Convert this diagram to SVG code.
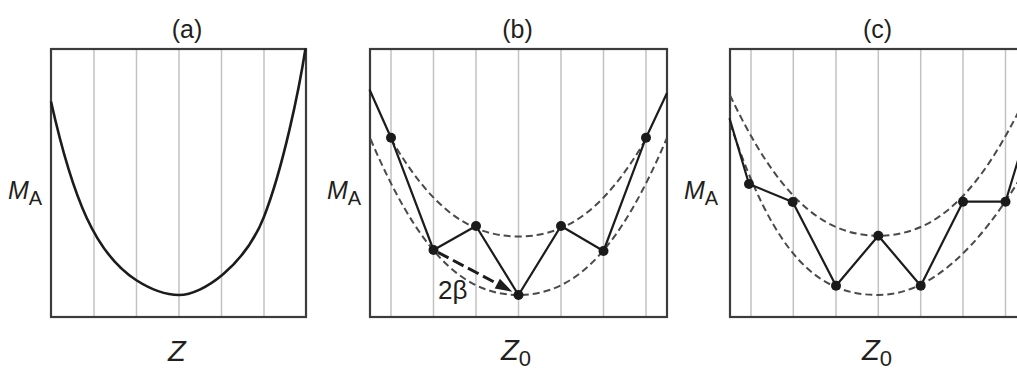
<svg xmlns="http://www.w3.org/2000/svg" width="1017" height="371" viewBox="0 0 1017 371">
<style>
.box{fill:none;stroke:#3c3c3c;stroke-width:2.2}
.grid line{stroke:#c2c2c2;stroke-width:1.5}
.curve{fill:none;stroke:#1c1c1c;stroke-width:2.6}
.dash{fill:none;stroke:#4a4a4a;stroke-width:2;stroke-dasharray:7 4}
.poly{fill:none;stroke:#1c1c1c;stroke-width:2.2;stroke-linejoin:round}
.dot{fill:#1a1a1a}
text{font-family:"Liberation Sans",Arial,sans-serif;fill:#231f20}
.t{font-size:25px;text-anchor:middle}
.m{font-size:25px;font-style:italic}
.s{font-style:normal;font-size:20px}
.z{font-size:29px;font-style:italic}
.zs{font-style:normal;font-size:22px}
</style>
<rect width="1017" height="371" fill="#fff"/>

<g id="panel-a">
  <g class="grid">
    <line x1="94" y1="49" x2="94" y2="317"/>
    <line x1="136.5" y1="49" x2="136.5" y2="317"/>
    <line x1="179" y1="49" x2="179" y2="317"/>
    <line x1="221.5" y1="49" x2="221.5" y2="317"/>
    <line x1="264" y1="49" x2="264" y2="317"/>
  </g>
  <rect class="box" x="51" y="49" width="255" height="268"/>
  <path class="curve" d="M51,101.5 C73,200 96,254 136,280 C150,289 165,295 179,295 C203,295 245,265 264,216.7 C283,168 299,90 305.5,48.5"/>
  <text class="t" x="187" y="38">(a)</text>
  <text class="m" x="8" y="199">M<tspan class="s" dy="6">A</tspan></text>
  <text class="z" x="168" y="361">Z</text>
</g>

<g id="panel-b">
  <g class="grid">
    <line x1="391" y1="49" x2="391" y2="317"/>
    <line x1="433.5" y1="49" x2="433.5" y2="317"/>
    <line x1="476" y1="49" x2="476" y2="317"/>
    <line x1="518.5" y1="49" x2="518.5" y2="317"/>
    <line x1="561" y1="49" x2="561" y2="317"/>
    <line x1="603.5" y1="49" x2="603.5" y2="317"/>
    <line x1="646" y1="49" x2="646" y2="317"/>
  </g>
  <rect class="box" x="370" y="49" width="297" height="268"/>
  <path class="dash" d="M370.5,139 C415.5,244.3 458.5,295 518.5,295 C578.5,295 621.5,244.3 666.5,139"/>
  <path class="dash" d="M391,139 C429.8,205 466.8,236.5 518.5,236.5 C570.2,236.5 607.2,205 646,139"/>
  <text class="t" x="517.5" y="38">(b)</text>
  <text class="m" x="327" y="199">M<tspan class="s" dy="6">A</tspan></text>
  <text class="z" x="501" y="360">Z<tspan class="zs" dy="6">0</tspan></text>
  <text x="438" y="299" font-size="26">2β</text>
</g>

<g id="panel-c">
  <g class="grid">
    <line x1="751" y1="49" x2="751" y2="317"/>
    <line x1="793.3" y1="49" x2="793.3" y2="317"/>
    <line x1="836" y1="49" x2="836" y2="317"/>
    <line x1="878.3" y1="49" x2="878.3" y2="317"/>
    <line x1="920.7" y1="49" x2="920.7" y2="317"/>
    <line x1="963" y1="49" x2="963" y2="317"/>
    <line x1="1005.5" y1="49" x2="1005.5" y2="317"/>
  </g>
  <rect class="box" x="730" y="49" width="297" height="268"/>
  <path class="dash" d="M730,123 C775,258 818.3,295 878.3,295 Q952.45,295 1026.6,167.5"/>
  <path class="dash" d="M730,95.3 C775.3,190.1 818.3,235.7 878.3,235.7 C938.3,235.7 981.3,190.1 1026.6,95.3"/>
  <text class="t" x="877.5" y="38">(c)</text>
  <text class="m" x="684" y="199">M<tspan class="s" dy="6">A</tspan></text>
  <text class="z" x="862" y="360">Z<tspan class="zs" dy="6">0</tspan></text>
</g>

<g id="connectors">
  <polyline class="poly" points="369.5,89.5 391,137.7 433.5,250 476,226 518.5,295 561,226 603.5,251 646,137.7 667,93"/>
  <polyline class="poly" points="729.5,118.3 749,184 792.7,202 836,285.7 878.3,235.7 920.7,285.7 963,201.7 1005.5,201.7 1026.6,132"/>
  <line x1="437.9" y1="252.3" x2="497.3" y2="283.7" stroke="#1c1c1c" stroke-width="3" stroke-dasharray="12 5"/>
  <polygon points="512.3,291.7 494.7,288.6 499.9,278.8" fill="#1c1c1c"/>
</g>

<g id="dots">
  <circle class="dot" cx="391" cy="137.7" r="5"/>
  <circle class="dot" cx="433.5" cy="250" r="5"/>
  <circle class="dot" cx="476" cy="226" r="5"/>
  <circle class="dot" cx="518.5" cy="295" r="5"/>
  <circle class="dot" cx="561" cy="226" r="5"/>
  <circle class="dot" cx="603.5" cy="251" r="5"/>
  <circle class="dot" cx="646" cy="137.7" r="5"/>
  <circle class="dot" cx="749" cy="184" r="5"/>
  <circle class="dot" cx="792.7" cy="202" r="5"/>
  <circle class="dot" cx="836" cy="285.7" r="5"/>
  <circle class="dot" cx="878.3" cy="235.7" r="5"/>
  <circle class="dot" cx="920.7" cy="285.7" r="5"/>
  <circle class="dot" cx="963" cy="201.7" r="5"/>
  <circle class="dot" cx="1005.5" cy="201.7" r="5"/>
</g>
</svg>
